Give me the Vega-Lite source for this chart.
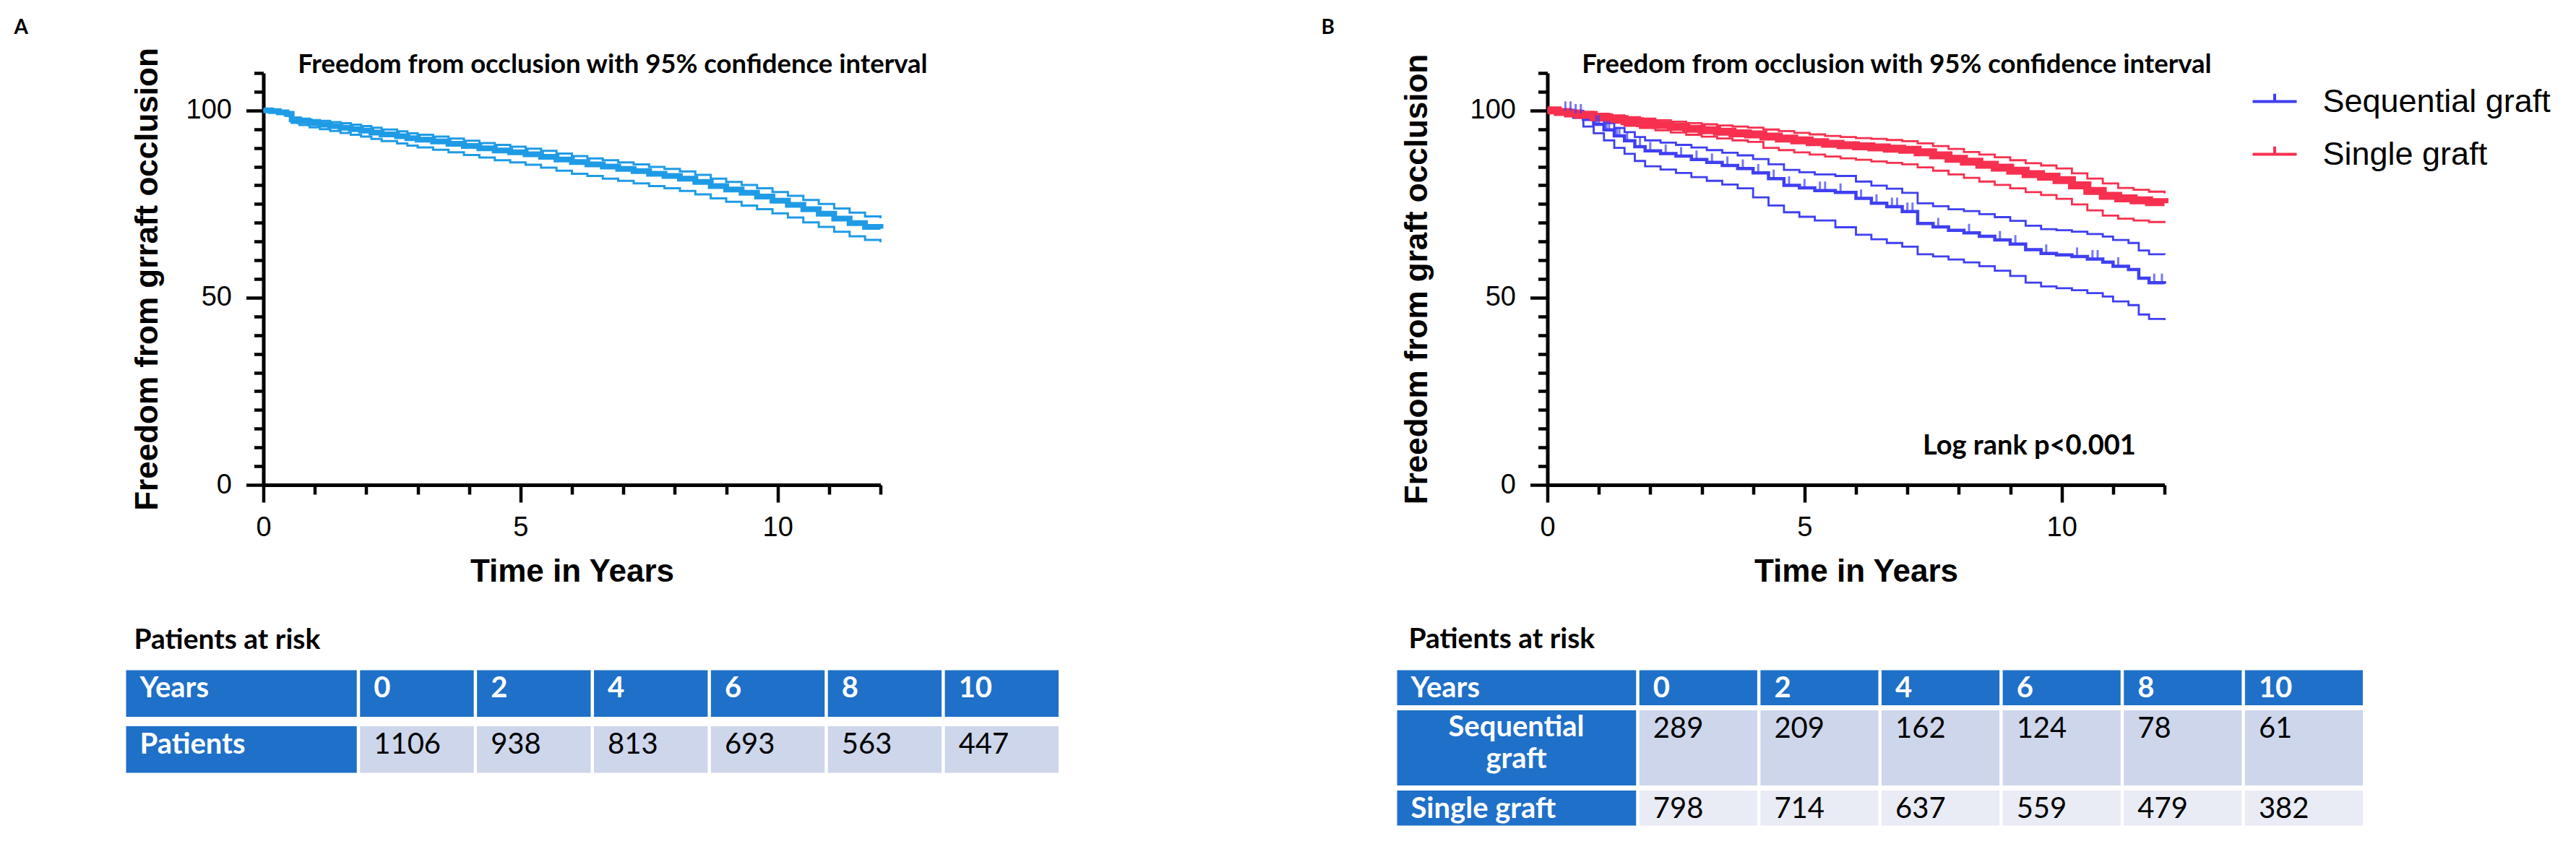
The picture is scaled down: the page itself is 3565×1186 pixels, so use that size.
{
  "$schema": "https://vega.github.io/schema/vega-lite/v6.json",
  "background": "white",
  "padding": {"left": 19.5, "top": 24, "right": 10, "bottom": 10},
  "config": {"view": {"stroke": null}, "font": "Liberation Sans"},
  "datasets": {
    "kmA": [
      {"t":0,"v":100,"part":"main"},{"t":0.15,"v":99.8,"part":"main"},{"t":0.3,"v":99.5,"part":"main"},{"t":0.45,"v":99.1,"part":"main"},{"t":0.55,"v":97.6,"part":"main"},{"t":0.7,"v":97.1,"part":"main"},{"t":0.9,"v":96.6,"part":"main"},{"t":1.1,"v":96.2,"part":"main"},{"t":1.3,"v":95.8,"part":"main"},{"t":1.5,"v":95.4,"part":"main"},
      {"t":1.7,"v":95.0,"part":"main"},{"t":1.9,"v":94.6,"part":"main"},{"t":2.1,"v":94.1,"part":"main"},{"t":2.3,"v":93.6,"part":"main"},{"t":2.6,"v":93.1,"part":"main"},{"t":2.8,"v":92.6,"part":"main"},{"t":3.0,"v":92.2,"part":"main"},{"t":3.3,"v":91.7,"part":"main"},{"t":3.6,"v":91.1,"part":"main"},{"t":3.9,"v":90.5,"part":"main"},
      {"t":4.2,"v":89.9,"part":"main"},{"t":4.5,"v":89.3,"part":"main"},{"t":4.8,"v":88.8,"part":"main"},{"t":5.1,"v":88.3,"part":"main"},{"t":5.4,"v":87.6,"part":"main"},{"t":5.7,"v":86.9,"part":"main"},{"t":6.0,"v":86.2,"part":"main"},{"t":6.3,"v":85.6,"part":"main"},{"t":6.6,"v":85.0,"part":"main"},{"t":6.9,"v":84.4,"part":"main"},
      {"t":7.2,"v":83.8,"part":"main"},{"t":7.5,"v":83.1,"part":"main"},{"t":7.8,"v":82.5,"part":"main"},{"t":8.1,"v":81.8,"part":"main"},{"t":8.4,"v":80.9,"part":"main"},{"t":8.7,"v":79.8,"part":"main"},{"t":9.0,"v":78.9,"part":"main"},{"t":9.3,"v":78.0,"part":"main"},{"t":9.6,"v":77.0,"part":"main"},{"t":9.9,"v":75.9,"part":"main"},
      {"t":10.2,"v":74.8,"part":"main"},{"t":10.5,"v":73.6,"part":"main"},{"t":10.8,"v":72.4,"part":"main"},{"t":11.1,"v":71.1,"part":"main"},{"t":11.4,"v":69.9,"part":"main"},{"t":11.7,"v":68.9,"part":"main"},{"t":12.0,"v":68.4,"part":"main"},
      {"t":0,"v":100,"part":"lower"},{"t":0.15,"v":99.6,"part":"lower"},{"t":0.3,"v":99.1,"part":"lower"},{"t":0.45,"v":98.5,"part":"lower"},{"t":0.55,"v":96.7,"part":"lower"},{"t":0.7,"v":96.1,"part":"lower"},{"t":0.9,"v":95.5,"part":"lower"},{"t":1.1,"v":95.0,"part":"lower"},{"t":1.3,"v":94.5,"part":"lower"},{"t":1.5,"v":94.0,"part":"lower"},
      {"t":1.7,"v":93.5,"part":"lower"},{"t":1.9,"v":93.0,"part":"lower"},{"t":2.1,"v":92.4,"part":"lower"},{"t":2.3,"v":91.8,"part":"lower"},{"t":2.6,"v":91.2,"part":"lower"},{"t":2.8,"v":90.6,"part":"lower"},{"t":3.0,"v":90.1,"part":"lower"},{"t":3.3,"v":89.5,"part":"lower"},{"t":3.6,"v":88.8,"part":"lower"},{"t":3.9,"v":88.1,"part":"lower"},
      {"t":4.2,"v":87.4,"part":"lower"},{"t":4.5,"v":86.7,"part":"lower"},{"t":4.8,"v":86.1,"part":"lower"},{"t":5.1,"v":85.5,"part":"lower"},{"t":5.4,"v":84.7,"part":"lower"},{"t":5.7,"v":83.9,"part":"lower"},{"t":6.0,"v":83.1,"part":"lower"},{"t":6.3,"v":82.5,"part":"lower"},{"t":6.6,"v":81.8,"part":"lower"},{"t":6.9,"v":81.2,"part":"lower"},
      {"t":7.2,"v":80.5,"part":"lower"},{"t":7.5,"v":79.8,"part":"lower"},{"t":7.8,"v":79.2,"part":"lower"},{"t":8.1,"v":78.5,"part":"lower"},{"t":8.4,"v":77.6,"part":"lower"},{"t":8.7,"v":76.5,"part":"lower"},{"t":9.0,"v":75.6,"part":"lower"},{"t":9.3,"v":74.6,"part":"lower"},{"t":9.6,"v":73.6,"part":"lower"},{"t":9.9,"v":72.5,"part":"lower"},
      {"t":10.2,"v":71.4,"part":"lower"},{"t":10.5,"v":70.1,"part":"lower"},{"t":10.8,"v":68.9,"part":"lower"},{"t":11.1,"v":67.6,"part":"lower"},{"t":11.4,"v":66.4,"part":"lower"},{"t":11.7,"v":65.4,"part":"lower"},{"t":12.0,"v":64.8,"part":"lower"},
      {"t":0,"v":100,"part":"upper"},{"t":0.15,"v":100,"part":"upper"},{"t":0.3,"v":99.8,"part":"upper"},{"t":0.45,"v":99.5,"part":"upper"},{"t":0.55,"v":98.1,"part":"upper"},{"t":0.7,"v":97.8,"part":"upper"},{"t":0.9,"v":97.4,"part":"upper"},{"t":1.1,"v":97.2,"part":"upper"},{"t":1.3,"v":96.9,"part":"upper"},{"t":1.5,"v":96.6,"part":"upper"},
      {"t":1.7,"v":96.2,"part":"upper"},{"t":1.9,"v":95.8,"part":"upper"},{"t":2.1,"v":95.4,"part":"upper"},{"t":2.3,"v":94.9,"part":"upper"},{"t":2.6,"v":94.4,"part":"upper"},{"t":2.8,"v":93.9,"part":"upper"},{"t":3.0,"v":93.5,"part":"upper"},{"t":3.3,"v":93.0,"part":"upper"},{"t":3.6,"v":92.5,"part":"upper"},{"t":3.9,"v":91.9,"part":"upper"},
      {"t":4.2,"v":91.3,"part":"upper"},{"t":4.5,"v":90.8,"part":"upper"},{"t":4.8,"v":90.3,"part":"upper"},{"t":5.1,"v":89.8,"part":"upper"},{"t":5.4,"v":89.2,"part":"upper"},{"t":5.7,"v":88.5,"part":"upper"},{"t":6.0,"v":87.8,"part":"upper"},{"t":6.3,"v":87.2,"part":"upper"},{"t":6.6,"v":86.7,"part":"upper"},{"t":6.9,"v":86.1,"part":"upper"},
      {"t":7.2,"v":85.6,"part":"upper"},{"t":7.5,"v":84.9,"part":"upper"},{"t":7.8,"v":84.4,"part":"upper"},{"t":8.1,"v":83.7,"part":"upper"},{"t":8.4,"v":82.8,"part":"upper"},{"t":8.7,"v":81.8,"part":"upper"},{"t":9.0,"v":80.9,"part":"upper"},{"t":9.3,"v":80.1,"part":"upper"},{"t":9.6,"v":79.2,"part":"upper"},{"t":9.9,"v":78.2,"part":"upper"},
      {"t":10.2,"v":77.2,"part":"upper"},{"t":10.5,"v":76.1,"part":"upper"},{"t":10.8,"v":75.0,"part":"upper"},{"t":11.1,"v":73.8,"part":"upper"},{"t":11.4,"v":72.7,"part":"upper"},{"t":11.7,"v":71.7,"part":"upper"},{"t":12.0,"v":71.2,"part":"upper"}
    ],
    "kmB": [
      {"t":0,"v":100,"group":"Single graft","part":"main"},{"t":0.2,"v":99.6,"group":"Single graft","part":"main"},{"t":0.4,"v":99.2,"group":"Single graft","part":"main"},{"t":0.6,"v":98.8,"group":"Single graft","part":"main"},{"t":0.9,"v":98.2,"group":"Single graft","part":"main"},{"t":1.2,"v":97.7,"group":"Single graft","part":"main"},{"t":1.5,"v":97.1,"group":"Single graft","part":"main"},{"t":1.8,"v":96.6,"group":"Single graft","part":"main"},{"t":2.1,"v":96.1,"group":"Single graft","part":"main"},{"t":2.4,"v":95.6,"group":"Single graft","part":"main"},
      {"t":2.7,"v":95.1,"group":"Single graft","part":"main"},{"t":3.0,"v":94.7,"group":"Single graft","part":"main"},{"t":3.3,"v":94.3,"group":"Single graft","part":"main"},{"t":3.6,"v":93.9,"group":"Single graft","part":"main"},{"t":3.9,"v":93.6,"group":"Single graft","part":"main"},{"t":4.2,"v":93.0,"group":"Single graft","part":"main"},{"t":4.5,"v":92.5,"group":"Single graft","part":"main"},{"t":4.8,"v":92.0,"group":"Single graft","part":"main"},{"t":5.1,"v":91.5,"group":"Single graft","part":"main"},{"t":5.4,"v":91.1,"group":"Single graft","part":"main"},
      {"t":5.7,"v":90.7,"group":"Single graft","part":"main"},{"t":6.0,"v":90.4,"group":"Single graft","part":"main"},{"t":6.3,"v":90.1,"group":"Single graft","part":"main"},{"t":6.6,"v":89.8,"group":"Single graft","part":"main"},{"t":6.9,"v":89.5,"group":"Single graft","part":"main"},{"t":7.2,"v":88.8,"group":"Single graft","part":"main"},{"t":7.5,"v":88.0,"group":"Single graft","part":"main"},{"t":7.8,"v":87.1,"group":"Single graft","part":"main"},{"t":8.1,"v":86.3,"group":"Single graft","part":"main"},{"t":8.4,"v":85.5,"group":"Single graft","part":"main"},
      {"t":8.7,"v":84.7,"group":"Single graft","part":"main"},{"t":9.0,"v":83.9,"group":"Single graft","part":"main"},{"t":9.3,"v":83.0,"group":"Single graft","part":"main"},{"t":9.6,"v":82.3,"group":"Single graft","part":"main"},{"t":9.9,"v":81.4,"group":"Single graft","part":"main"},{"t":10.2,"v":80.0,"group":"Single graft","part":"main"},{"t":10.5,"v":78.5,"group":"Single graft","part":"main"},{"t":10.8,"v":77.2,"group":"Single graft","part":"main"},{"t":11.1,"v":76.5,"group":"Single graft","part":"main"},{"t":11.4,"v":76.0,"group":"Single graft","part":"main"},
      {"t":11.7,"v":75.5,"group":"Single graft","part":"main"},{"t":12.0,"v":75.2,"group":"Single graft","part":"main"},
      {"t":0,"v":100,"group":"Single graft","part":"lower"},{"t":0.2,"v":99.3,"group":"Single graft","part":"lower"},{"t":0.4,"v":98.7,"group":"Single graft","part":"lower"},{"t":0.6,"v":98.1,"group":"Single graft","part":"lower"},{"t":0.9,"v":97.3,"group":"Single graft","part":"lower"},{"t":1.2,"v":96.7,"group":"Single graft","part":"lower"},{"t":1.5,"v":95.9,"group":"Single graft","part":"lower"},{"t":1.8,"v":95.3,"group":"Single graft","part":"lower"},{"t":2.1,"v":94.7,"group":"Single graft","part":"lower"},{"t":2.4,"v":94.1,"group":"Single graft","part":"lower"},
      {"t":2.7,"v":93.5,"group":"Single graft","part":"lower"},{"t":3.0,"v":93.0,"group":"Single graft","part":"lower"},{"t":3.3,"v":92.5,"group":"Single graft","part":"lower"},{"t":3.6,"v":92.0,"group":"Single graft","part":"lower"},{"t":3.9,"v":91.6,"group":"Single graft","part":"lower"},{"t":4.2,"v":90.0,"group":"Single graft","part":"lower"},{"t":4.5,"v":89.4,"group":"Single graft","part":"lower"},{"t":4.8,"v":88.8,"group":"Single graft","part":"lower"},{"t":5.1,"v":88.2,"group":"Single graft","part":"lower"},{"t":5.4,"v":87.7,"group":"Single graft","part":"lower"},
      {"t":5.7,"v":87.2,"group":"Single graft","part":"lower"},{"t":6.0,"v":86.8,"group":"Single graft","part":"lower"},{"t":6.3,"v":86.4,"group":"Single graft","part":"lower"},{"t":6.6,"v":86.0,"group":"Single graft","part":"lower"},{"t":6.9,"v":85.6,"group":"Single graft","part":"lower"},{"t":7.2,"v":84.8,"group":"Single graft","part":"lower"},{"t":7.5,"v":83.9,"group":"Single graft","part":"lower"},{"t":7.8,"v":82.9,"group":"Single graft","part":"lower"},{"t":8.1,"v":82.0,"group":"Single graft","part":"lower"},{"t":8.4,"v":81.0,"group":"Single graft","part":"lower"},
      {"t":8.7,"v":80.1,"group":"Single graft","part":"lower"},{"t":9.0,"v":79.2,"group":"Single graft","part":"lower"},{"t":9.3,"v":78.2,"group":"Single graft","part":"lower"},{"t":9.6,"v":77.4,"group":"Single graft","part":"lower"},{"t":9.9,"v":76.4,"group":"Single graft","part":"lower"},{"t":10.2,"v":74.9,"group":"Single graft","part":"lower"},{"t":10.5,"v":73.3,"group":"Single graft","part":"lower"},{"t":10.8,"v":71.9,"group":"Single graft","part":"lower"},{"t":11.1,"v":71.1,"group":"Single graft","part":"lower"},{"t":11.4,"v":70.6,"group":"Single graft","part":"lower"},
      {"t":11.7,"v":70.2,"group":"Single graft","part":"lower"},{"t":12.0,"v":69.9,"group":"Single graft","part":"lower"},
      {"t":0,"v":100,"group":"Single graft","part":"upper"},{"t":0.2,"v":100,"group":"Single graft","part":"upper"},{"t":0.4,"v":99.8,"group":"Single graft","part":"upper"},{"t":0.6,"v":99.6,"group":"Single graft","part":"upper"},{"t":0.9,"v":99.1,"group":"Single graft","part":"upper"},{"t":1.2,"v":98.7,"group":"Single graft","part":"upper"},{"t":1.5,"v":98.2,"group":"Single graft","part":"upper"},{"t":1.8,"v":97.8,"group":"Single graft","part":"upper"},{"t":2.1,"v":97.4,"group":"Single graft","part":"upper"},{"t":2.4,"v":97.0,"group":"Single graft","part":"upper"},
      {"t":2.7,"v":96.6,"group":"Single graft","part":"upper"},{"t":3.0,"v":96.3,"group":"Single graft","part":"upper"},{"t":3.3,"v":96.0,"group":"Single graft","part":"upper"},{"t":3.6,"v":95.7,"group":"Single graft","part":"upper"},{"t":3.9,"v":95.4,"group":"Single graft","part":"upper"},{"t":4.2,"v":94.9,"group":"Single graft","part":"upper"},{"t":4.5,"v":94.5,"group":"Single graft","part":"upper"},{"t":4.8,"v":94.0,"group":"Single graft","part":"upper"},{"t":5.1,"v":93.6,"group":"Single graft","part":"upper"},{"t":5.4,"v":93.2,"group":"Single graft","part":"upper"},
      {"t":5.7,"v":92.9,"group":"Single graft","part":"upper"},{"t":6.0,"v":92.6,"group":"Single graft","part":"upper"},{"t":6.3,"v":92.4,"group":"Single graft","part":"upper"},{"t":6.6,"v":92.1,"group":"Single graft","part":"upper"},{"t":6.9,"v":91.8,"group":"Single graft","part":"upper"},{"t":7.2,"v":91.2,"group":"Single graft","part":"upper"},{"t":7.5,"v":90.5,"group":"Single graft","part":"upper"},{"t":7.8,"v":89.7,"group":"Single graft","part":"upper"},{"t":8.1,"v":88.9,"group":"Single graft","part":"upper"},{"t":8.4,"v":88.2,"group":"Single graft","part":"upper"},
      {"t":8.7,"v":87.5,"group":"Single graft","part":"upper"},{"t":9.0,"v":86.7,"group":"Single graft","part":"upper"},{"t":9.3,"v":85.9,"group":"Single graft","part":"upper"},{"t":9.6,"v":85.3,"group":"Single graft","part":"upper"},{"t":9.9,"v":84.5,"group":"Single graft","part":"upper"},{"t":10.2,"v":83.2,"group":"Single graft","part":"upper"},{"t":10.5,"v":81.8,"group":"Single graft","part":"upper"},{"t":10.8,"v":80.5,"group":"Single graft","part":"upper"},{"t":11.1,"v":79.3,"group":"Single graft","part":"upper"},{"t":11.4,"v":78.8,"group":"Single graft","part":"upper"},
      {"t":11.7,"v":78.3,"group":"Single graft","part":"upper"},{"t":12.0,"v":77.8,"group":"Single graft","part":"upper"},
      {"t":0,"v":100,"group":"Sequential graft","part":"main"},{"t":0.3,"v":100,"group":"Sequential graft","part":"main"},{"t":0.5,"v":99.3,"group":"Sequential graft","part":"main"},{"t":0.7,"v":97.6,"group":"Sequential graft","part":"main"},{"t":0.9,"v":96.3,"group":"Sequential graft","part":"main"},{"t":1.1,"v":94.8,"group":"Sequential graft","part":"main"},{"t":1.3,"v":93.2,"group":"Sequential graft","part":"main"},{"t":1.5,"v":91.9,"group":"Sequential graft","part":"main"},{"t":1.7,"v":90.3,"group":"Sequential graft","part":"main"},{"t":1.9,"v":89.2,"group":"Sequential graft","part":"main"},
      {"t":2.2,"v":88.5,"group":"Sequential graft","part":"main"},{"t":2.5,"v":87.8,"group":"Sequential graft","part":"main"},{"t":2.8,"v":86.9,"group":"Sequential graft","part":"main"},{"t":3.1,"v":86.1,"group":"Sequential graft","part":"main"},{"t":3.4,"v":85.3,"group":"Sequential graft","part":"main"},{"t":3.7,"v":84.5,"group":"Sequential graft","part":"main"},{"t":4.0,"v":83.3,"group":"Sequential graft","part":"main"},{"t":4.3,"v":81.8,"group":"Sequential graft","part":"main"},{"t":4.6,"v":80.0,"group":"Sequential graft","part":"main"},{"t":4.9,"v":79.3,"group":"Sequential graft","part":"main"},
      {"t":5.2,"v":78.6,"group":"Sequential graft","part":"main"},{"t":5.6,"v":78.1,"group":"Sequential graft","part":"main"},{"t":6.0,"v":76.5,"group":"Sequential graft","part":"main"},{"t":6.3,"v":75.2,"group":"Sequential graft","part":"main"},{"t":6.6,"v":74.3,"group":"Sequential graft","part":"main"},{"t":6.9,"v":73.0,"group":"Sequential graft","part":"main"},{"t":7.2,"v":69.8,"group":"Sequential graft","part":"main"},{"t":7.5,"v":68.9,"group":"Sequential graft","part":"main"},{"t":7.8,"v":68.0,"group":"Sequential graft","part":"main"},{"t":8.1,"v":67.3,"group":"Sequential graft","part":"main"},
      {"t":8.4,"v":66.4,"group":"Sequential graft","part":"main"},{"t":8.7,"v":65.4,"group":"Sequential graft","part":"main"},{"t":9.0,"v":64.3,"group":"Sequential graft","part":"main"},{"t":9.3,"v":62.8,"group":"Sequential graft","part":"main"},{"t":9.6,"v":61.8,"group":"Sequential graft","part":"main"},{"t":9.9,"v":61.4,"group":"Sequential graft","part":"main"},{"t":10.2,"v":61.0,"group":"Sequential graft","part":"main"},{"t":10.5,"v":60.3,"group":"Sequential graft","part":"main"},{"t":10.8,"v":59.5,"group":"Sequential graft","part":"main"},{"t":11.0,"v":58.4,"group":"Sequential graft","part":"main"},
      {"t":11.3,"v":57.5,"group":"Sequential graft","part":"main"},{"t":11.5,"v":55.2,"group":"Sequential graft","part":"main"},{"t":11.7,"v":54.0,"group":"Sequential graft","part":"main"},{"t":12.0,"v":53.7,"group":"Sequential graft","part":"main"},
      {"t":0,"v":100,"group":"Sequential graft","part":"upper"},{"t":0.3,"v":100,"group":"Sequential graft","part":"upper"},{"t":0.5,"v":99.9,"group":"Sequential graft","part":"upper"},{"t":0.7,"v":98.9,"group":"Sequential graft","part":"upper"},{"t":0.9,"v":97.9,"group":"Sequential graft","part":"upper"},{"t":1.1,"v":96.6,"group":"Sequential graft","part":"upper"},{"t":1.3,"v":95.3,"group":"Sequential graft","part":"upper"},{"t":1.5,"v":94.2,"group":"Sequential graft","part":"upper"},{"t":1.7,"v":92.9,"group":"Sequential graft","part":"upper"},{"t":1.9,"v":92.0,"group":"Sequential graft","part":"upper"},
      {"t":2.2,"v":91.4,"group":"Sequential graft","part":"upper"},{"t":2.5,"v":90.8,"group":"Sequential graft","part":"upper"},{"t":2.8,"v":90.1,"group":"Sequential graft","part":"upper"},{"t":3.1,"v":89.4,"group":"Sequential graft","part":"upper"},{"t":3.4,"v":88.7,"group":"Sequential graft","part":"upper"},{"t":3.7,"v":88.0,"group":"Sequential graft","part":"upper"},{"t":4.0,"v":87.0,"group":"Sequential graft","part":"upper"},{"t":4.3,"v":85.6,"group":"Sequential graft","part":"upper"},{"t":4.6,"v":84.1,"group":"Sequential graft","part":"upper"},{"t":4.9,"v":83.5,"group":"Sequential graft","part":"upper"},
      {"t":5.2,"v":82.9,"group":"Sequential graft","part":"upper"},{"t":5.6,"v":82.5,"group":"Sequential graft","part":"upper"},{"t":6.0,"v":81.0,"group":"Sequential graft","part":"upper"},{"t":6.3,"v":79.9,"group":"Sequential graft","part":"upper"},{"t":6.6,"v":79.1,"group":"Sequential graft","part":"upper"},{"t":6.9,"v":78.0,"group":"Sequential graft","part":"upper"},{"t":7.2,"v":75.2,"group":"Sequential graft","part":"upper"},{"t":7.5,"v":74.4,"group":"Sequential graft","part":"upper"},{"t":7.8,"v":73.6,"group":"Sequential graft","part":"upper"},{"t":8.1,"v":73.1,"group":"Sequential graft","part":"upper"},
      {"t":8.4,"v":72.3,"group":"Sequential graft","part":"upper"},{"t":8.7,"v":71.5,"group":"Sequential graft","part":"upper"},{"t":9.0,"v":70.5,"group":"Sequential graft","part":"upper"},{"t":9.3,"v":69.2,"group":"Sequential graft","part":"upper"},{"t":9.6,"v":68.3,"group":"Sequential graft","part":"upper"},{"t":9.9,"v":68.0,"group":"Sequential graft","part":"upper"},{"t":10.2,"v":67.6,"group":"Sequential graft","part":"upper"},{"t":10.5,"v":67.0,"group":"Sequential graft","part":"upper"},{"t":10.8,"v":66.3,"group":"Sequential graft","part":"upper"},{"t":11.0,"v":65.4,"group":"Sequential graft","part":"upper"},
      {"t":11.3,"v":64.6,"group":"Sequential graft","part":"upper"},{"t":11.5,"v":62.6,"group":"Sequential graft","part":"upper"},{"t":11.7,"v":61.6,"group":"Sequential graft","part":"upper"},{"t":12.0,"v":61.4,"group":"Sequential graft","part":"upper"},
      {"t":0,"v":100,"group":"Sequential graft","part":"lower"},{"t":0.3,"v":99.6,"group":"Sequential graft","part":"lower"},{"t":0.5,"v":98.0,"group":"Sequential graft","part":"lower"},{"t":0.7,"v":95.7,"group":"Sequential graft","part":"lower"},{"t":0.9,"v":93.9,"group":"Sequential graft","part":"lower"},{"t":1.1,"v":92.0,"group":"Sequential graft","part":"lower"},{"t":1.3,"v":90.0,"group":"Sequential graft","part":"lower"},{"t":1.5,"v":88.4,"group":"Sequential graft","part":"lower"},{"t":1.7,"v":86.5,"group":"Sequential graft","part":"lower"},{"t":1.9,"v":85.1,"group":"Sequential graft","part":"lower"},
      {"t":2.2,"v":84.2,"group":"Sequential graft","part":"lower"},{"t":2.5,"v":83.3,"group":"Sequential graft","part":"lower"},{"t":2.8,"v":82.2,"group":"Sequential graft","part":"lower"},{"t":3.1,"v":81.2,"group":"Sequential graft","part":"lower"},{"t":3.4,"v":80.2,"group":"Sequential graft","part":"lower"},{"t":3.7,"v":79.2,"group":"Sequential graft","part":"lower"},{"t":4.0,"v":76.8,"group":"Sequential graft","part":"lower"},{"t":4.3,"v":74.6,"group":"Sequential graft","part":"lower"},{"t":4.6,"v":72.8,"group":"Sequential graft","part":"lower"},{"t":4.9,"v":71.6,"group":"Sequential graft","part":"lower"},
      {"t":5.2,"v":70.6,"group":"Sequential graft","part":"lower"},{"t":5.6,"v":68.8,"group":"Sequential graft","part":"lower"},{"t":6.0,"v":66.8,"group":"Sequential graft","part":"lower"},{"t":6.3,"v":65.6,"group":"Sequential graft","part":"lower"},{"t":6.6,"v":64.6,"group":"Sequential graft","part":"lower"},{"t":6.9,"v":63.6,"group":"Sequential graft","part":"lower"},{"t":7.2,"v":61.6,"group":"Sequential graft","part":"lower"},{"t":7.5,"v":61.0,"group":"Sequential graft","part":"lower"},{"t":7.8,"v":60.2,"group":"Sequential graft","part":"lower"},{"t":8.1,"v":59.4,"group":"Sequential graft","part":"lower"},
      {"t":8.4,"v":58.4,"group":"Sequential graft","part":"lower"},{"t":8.7,"v":57.2,"group":"Sequential graft","part":"lower"},{"t":9.0,"v":55.8,"group":"Sequential graft","part":"lower"},{"t":9.3,"v":54.0,"group":"Sequential graft","part":"lower"},{"t":9.6,"v":53.0,"group":"Sequential graft","part":"lower"},{"t":9.9,"v":52.5,"group":"Sequential graft","part":"lower"},{"t":10.2,"v":52.0,"group":"Sequential graft","part":"lower"},{"t":10.5,"v":51.2,"group":"Sequential graft","part":"lower"},{"t":10.8,"v":50.3,"group":"Sequential graft","part":"lower"},{"t":11.0,"v":49.0,"group":"Sequential graft","part":"lower"},
      {"t":11.3,"v":48.0,"group":"Sequential graft","part":"lower"},{"t":11.5,"v":45.5,"group":"Sequential graft","part":"lower"},{"t":11.7,"v":44.3,"group":"Sequential graft","part":"lower"},{"t":12.0,"v":44.0,"group":"Sequential graft","part":"lower"}
    ],
    "censorB": [
      {"t":0.35,"v":100,"group":"Sequential graft"},{"t":0.45,"v":100,"group":"Sequential graft"},{"t":0.55,"v":99.3,"group":"Sequential graft"},{"t":0.65,"v":99.3,"group":"Sequential graft"},{"t":0.95,"v":96.3,"group":"Sequential graft"},{"t":1.0,"v":96.3,"group":"Sequential graft"},{"t":1.15,"v":94.8,"group":"Sequential graft"},{"t":1.2,"v":94.8,"group":"Sequential graft"},{"t":1.35,"v":93.2,"group":"Sequential graft"},{"t":1.4,"v":93.2,"group":"Sequential graft"},
      {"t":1.55,"v":91.9,"group":"Sequential graft"},{"t":1.8,"v":90.3,"group":"Sequential graft"},{"t":2.0,"v":89.2,"group":"Sequential graft"},{"t":2.3,"v":88.5,"group":"Sequential graft"},{"t":2.6,"v":87.8,"group":"Sequential graft"},{"t":2.9,"v":86.9,"group":"Sequential graft"},{"t":3.2,"v":86.1,"group":"Sequential graft"},{"t":3.5,"v":85.3,"group":"Sequential graft"},{"t":3.8,"v":84.5,"group":"Sequential graft"},{"t":4.1,"v":83.3,"group":"Sequential graft"},
      {"t":4.4,"v":81.8,"group":"Sequential graft"},{"t":4.7,"v":80.0,"group":"Sequential graft"},{"t":5.0,"v":79.3,"group":"Sequential graft"},{"t":5.3,"v":78.6,"group":"Sequential graft"},{"t":5.4,"v":78.6,"group":"Sequential graft"},{"t":5.7,"v":78.1,"group":"Sequential graft"},{"t":6.1,"v":76.5,"group":"Sequential graft"},{"t":6.4,"v":75.2,"group":"Sequential graft"},{"t":6.7,"v":74.3,"group":"Sequential graft"},{"t":6.8,"v":74.3,"group":"Sequential graft"},
      {"t":7.0,"v":73.0,"group":"Sequential graft"},{"t":7.1,"v":73.0,"group":"Sequential graft"},{"t":7.6,"v":68.9,"group":"Sequential graft"},{"t":8.2,"v":67.3,"group":"Sequential graft"},{"t":8.8,"v":65.4,"group":"Sequential graft"},{"t":9.1,"v":64.3,"group":"Sequential graft"},{"t":9.7,"v":61.8,"group":"Sequential graft"},{"t":10.3,"v":61.0,"group":"Sequential graft"},{"t":10.6,"v":60.3,"group":"Sequential graft"},{"t":10.7,"v":60.3,"group":"Sequential graft"},
      {"t":11.1,"v":58.4,"group":"Sequential graft"},{"t":11.8,"v":54.0,"group":"Sequential graft"},{"t":11.95,"v":54.0,"group":"Sequential graft"}
    ],
    "annotA": [
      {"t":-4.71,"v":122,"text":"A","role":"panel"},
      {"t":0.67,"v":112.2,"text":"Freedom from occlusion with 95% confidence interval","role":"title"}
    ],
    "annotB": [
      {"t":-4.27,"v":122,"text":"B","role":"panel"},
      {"t":0.67,"v":112.2,"text":"Freedom from occlusion with 95% confidence interval","role":"title"},
      {"t":7.3,"v":10.3,"text":"Log rank p<0.001","role":"note"}
    ],
    "tableA": [
      {"r0":0,"r1":1,"c0":0,"c1":2,"text":"Years","kind":"head"},
      {"r0":0,"r1":1,"c0":2,"c1":3,"text":"0","kind":"head"},
      {"r0":0,"r1":1,"c0":3,"c1":4,"text":"2","kind":"head"},
      {"r0":0,"r1":1,"c0":4,"c1":5,"text":"4","kind":"head"},
      {"r0":0,"r1":1,"c0":5,"c1":6,"text":"6","kind":"head"},
      {"r0":0,"r1":1,"c0":6,"c1":7,"text":"8","kind":"head"},
      {"r0":0,"r1":1,"c0":7,"c1":8,"text":"10","kind":"head"},
      {"r0":1,"r1":2,"c0":0,"c1":2,"text":"Patients","kind":"head"},
      {"r0":1,"r1":2,"c0":2,"c1":3,"text":"1106","kind":"data1"},
      {"r0":1,"r1":2,"c0":3,"c1":4,"text":"938","kind":"data1"},
      {"r0":1,"r1":2,"c0":4,"c1":5,"text":"813","kind":"data1"},
      {"r0":1,"r1":2,"c0":5,"c1":6,"text":"693","kind":"data1"},
      {"r0":1,"r1":2,"c0":6,"c1":7,"text":"563","kind":"data1"},
      {"r0":1,"r1":2,"c0":7,"c1":8,"text":"447","kind":"data1"}
    ],
    "tableB": [
      {"r0":0,"r1":1,"c0":0,"c1":2,"text":"Years","kind":"head"},
      {"r0":0,"r1":1,"c0":2,"c1":3,"text":"0","kind":"head"},
      {"r0":0,"r1":1,"c0":3,"c1":4,"text":"2","kind":"head"},
      {"r0":0,"r1":1,"c0":4,"c1":5,"text":"4","kind":"head"},
      {"r0":0,"r1":1,"c0":5,"c1":6,"text":"6","kind":"head"},
      {"r0":0,"r1":1,"c0":6,"c1":7,"text":"8","kind":"head"},
      {"r0":0,"r1":1,"c0":7,"c1":8,"text":"10","kind":"head"},
      {"r0":1,"r1":3,"c0":0,"c1":2,"text":"Sequential graft","kind":"head"},
      {"r0":1,"r1":3,"c0":2,"c1":3,"text":"289","kind":"data1"},
      {"r0":1,"r1":3,"c0":3,"c1":4,"text":"209","kind":"data1"},
      {"r0":1,"r1":3,"c0":4,"c1":5,"text":"162","kind":"data1"},
      {"r0":1,"r1":3,"c0":5,"c1":6,"text":"124","kind":"data1"},
      {"r0":1,"r1":3,"c0":6,"c1":7,"text":"78","kind":"data1"},
      {"r0":1,"r1":3,"c0":7,"c1":8,"text":"61","kind":"data1"},
      {"r0":3,"r1":4,"c0":0,"c1":2,"text":"Single graft","kind":"head"},
      {"r0":3,"r1":4,"c0":2,"c1":3,"text":"798","kind":"data2"},
      {"r0":3,"r1":4,"c0":3,"c1":4,"text":"714","kind":"data2"},
      {"r0":3,"r1":4,"c0":4,"c1":5,"text":"637","kind":"data2"},
      {"r0":3,"r1":4,"c0":5,"c1":6,"text":"559","kind":"data2"},
      {"r0":3,"r1":4,"c0":6,"c1":7,"text":"479","kind":"data2"},
      {"r0":3,"r1":4,"c0":7,"c1":8,"text":"382","kind":"data2"}
    ],
    "riskA": [{"c0":0.068,"r0":-0.458,"text":"Patients at risk"}],
    "riskB": [{"c0":0.095,"r0":-0.694,"text":"Patients at risk"}]
  },
  "spacing": 358,
  "hconcat": [
    {
      "spacing": 53,
      "vconcat": [
        {
          "width": 854,
          "height": 570,
          "encoding": {
            "x": {"field": "t", "type": "quantitative", "scale": {"domain": [0, 12], "nice": false},
              "axis": {"values": [0,1,2,3,4,5,6,7,8,9,10,11,12], "labelExpr": "datum.value % 5 === 0 ? datum.label : ''",
                "tickSize": {"condition": {"test": "datum.value % 5 === 0", "value": 24}, "value": 13},
                "tickWidth": 4.5, "tickColor": "black", "domainColor": "black", "domainWidth": 5,
                "labelFont": "Liberation Sans", "labelFontSize": 38, "labelColor": "black", "labelPadding": 16, "labelOverlap": false, "labelFlush": false, "grid": false,
                "title": "Time in Years", "titleFont": "Liberation Sans", "titleFontSize": 44, "titleFontWeight": "bold", "titleColor": "black", "titleBaseline": "middle", "titleY": 120}},
            "y": {"field": "v", "type": "quantitative", "scale": {"domain": [0, 110], "nice": false},
              "axis": {"values": [0,5,10,15,20,25,30,35,40,45,50,55,60,65,70,75,80,85,90,95,100,105,110], "labelExpr": "datum.value % 50 === 0 ? datum.label : ''",
                "tickSize": {"condition": {"test": "datum.value % 50 === 0", "value": 24}, "value": 13},
                "tickWidth": 4.5, "tickColor": "black", "domainColor": "black", "domainWidth": 5,
                "labelFont": "Liberation Sans", "labelFontSize": 38, "labelColor": "black", "labelPadding": 20, "labelOverlap": false, "labelFlush": false, "grid": false,
                "title": "Freedom from grraft occlusion", "titleFont": "Liberation Sans", "titleFontSize": 44, "titleFontWeight": "bold", "titleColor": "black", "titleBaseline": "middle", "titleX": -160}}
          },
          "layer": [
            {"data": {"name": "kmA"}, "transform": [{"filter": "datum.part !== 'main'"}], "mark": {"type": "line", "interpolate": "step-after", "color": "#1f9be6", "strokeWidth": 3}, "encoding": {"detail": {"field": "part", "type": "nominal"}}},
            {"data": {"name": "kmA"}, "transform": [{"filter": "datum.part === 'main'"}], "mark": {"type": "line", "interpolate": "step-after", "color": "#1f9be6", "strokeWidth": 8}, "encoding": {}},
            {"data": {"name": "annotA"}, "transform": [{"filter": "datum.role === 'panel'"}], "mark": {"type": "text", "align": "center", "baseline": "middle", "font": "Lato", "fontSize": 28, "fontWeight": "bold", "color": "black"}, "encoding": {"text": {"field": "text", "type": "nominal"}}},
            {"data": {"name": "annotA"}, "transform": [{"filter": "datum.role === 'title'"}], "mark": {"type": "text", "align": "left", "baseline": "middle", "font": "Lato", "fontSize": 36.5, "fontWeight": "bold", "color": "black"}, "encoding": {"text": {"field": "text", "type": "nominal"}}}
          ]
        },
        {
          "width": 1105,
          "height": 155,
          "encoding": {
            "x": {"field": "c0", "type": "quantitative", "scale": {"domain": [0, 8], "range": [-190, 1105], "nice": false, "zero": false}, "axis": null},
            "y": {"field": "r0", "type": "quantitative", "scale": {"domain": [0, 2], "range": [0, 155], "nice": false, "zero": false}, "axis": null}
          },
          "layer": [
            {"data": {"name": "tableA"}, "mark": {"type": "rect", "x2Offset": -4.5, "yOffset": 6.5, "y2Offset": -6.5},
             "encoding": {"x2": {"field": "c1"}, "y2": {"field": "r1"},
               "fill": {"field": "kind", "type": "nominal", "scale": {"domain": ["head", "data1", "data2"], "range": ["#1f70c8", "#cdd6eb", "#e9ebf5"]}, "legend": null}}},
            {"data": {"name": "tableA"}, "transform": [{"filter": "datum.kind === 'head'"}],
             "mark": {"type": "text", "align": "left", "baseline": "top", "dx": 19, "dy": 12, "font": "Lato", "fontSize": 40, "fontWeight": "bold", "color": "white"},
             "encoding": {"text": {"field": "text", "type": "nominal"}}},
            {"data": {"name": "tableA"}, "transform": [{"filter": "datum.kind !== 'head'"}],
             "mark": {"type": "text", "align": "left", "baseline": "top", "dx": 19, "dy": 12, "font": "Lato", "fontSize": 40, "color": "black"},
             "encoding": {"text": {"field": "text", "type": "nominal"}}},
            {"data": {"name": "riskA"},
             "mark": {"type": "text", "align": "left", "baseline": "middle", "font": "Lato", "fontSize": 39, "fontWeight": "bold", "color": "black"},
             "encoding": {"text": {"field": "text", "type": "nominal"}}}
          ]
        }
      ]
    },
    {
      "spacing": 53,
      "vconcat": [
        {
          "width": 854,
          "height": 570,
          "encoding": {
            "x": {"field": "t", "type": "quantitative", "scale": {"domain": [0, 12], "nice": false},
              "axis": {"values": [0,1,2,3,4,5,6,7,8,9,10,11,12], "labelExpr": "datum.value % 5 === 0 ? datum.label : ''",
                "tickSize": {"condition": {"test": "datum.value % 5 === 0", "value": 24}, "value": 13},
                "tickWidth": 4.5, "tickColor": "black", "domainColor": "black", "domainWidth": 5,
                "labelFont": "Liberation Sans", "labelFontSize": 38, "labelColor": "black", "labelPadding": 16, "labelOverlap": false, "labelFlush": false, "grid": false,
                "title": "Time in Years", "titleFont": "Liberation Sans", "titleFontSize": 44, "titleFontWeight": "bold", "titleColor": "black", "titleBaseline": "middle", "titleY": 120}},
            "y": {"field": "v", "type": "quantitative", "scale": {"domain": [0, 110], "nice": false},
              "axis": {"values": [0,5,10,15,20,25,30,35,40,45,50,55,60,65,70,75,80,85,90,95,100,105,110], "labelExpr": "datum.value % 50 === 0 ? datum.label : ''",
                "tickSize": {"condition": {"test": "datum.value % 50 === 0", "value": 24}, "value": 13},
                "tickWidth": 4.5, "tickColor": "black", "domainColor": "black", "domainWidth": 5,
                "labelFont": "Liberation Sans", "labelFontSize": 38, "labelColor": "black", "labelPadding": 20, "labelOverlap": false, "labelFlush": false, "grid": false,
                "title": "Freedom from graft occlusion", "titleFont": "Liberation Sans", "titleFontSize": 44, "titleFontWeight": "bold", "titleColor": "black", "titleBaseline": "middle", "titleX": -180}}
          },
          "layer": [
            {"data": {"name": "kmB"}, "transform": [{"filter": "datum.part !== 'main'"}],
             "mark": {"type": "line", "interpolate": "step-after", "strokeWidth": 2.8},
             "encoding": {"detail": {"field": "part", "type": "nominal"},
               "color": {"field": "group", "type": "nominal", "scale": {"domain": ["Sequential graft", "Single graft"], "range": ["#3f3ff2", "#f7304f"]},
                 "legend": {"orient": "none", "direction": "vertical", "legendX": 2751, "legendY": 7, "title": null, "symbolType": "M-1,0L1,0M0,0L0,-0.35", "symbolSize": 3721, "symbolStrokeWidth": 4, "labelFont": "Liberation Sans", "labelFontSize": 45, "labelColor": "black", "labelOffset": 34, "rowPadding": 17, "padding": 0, "labelLimit": 0}}}},
            {"data": {"name": "kmB"}, "transform": [{"filter": "datum.part === 'main' && datum.group === 'Sequential graft'"}],
             "mark": {"type": "line", "interpolate": "step-after", "strokeWidth": 4.5},
             "encoding": {"color": {"field": "group", "type": "nominal", "scale": {"domain": ["Sequential graft", "Single graft"], "range": ["#3f3ff2", "#f7304f"]},
                 "legend": {"orient": "none", "direction": "vertical", "legendX": 2751, "legendY": 7, "title": null, "symbolType": "M-1,0L1,0M0,0L0,-0.35", "symbolSize": 3721, "symbolStrokeWidth": 4, "labelFont": "Liberation Sans", "labelFontSize": 45, "labelColor": "black", "labelOffset": 34, "rowPadding": 17, "padding": 0, "labelLimit": 0}}}},
            {"data": {"name": "kmB"}, "transform": [{"filter": "datum.part === 'main' && datum.group === 'Single graft'"}],
             "mark": {"type": "line", "interpolate": "step-after", "strokeWidth": 11},
             "encoding": {"color": {"field": "group", "type": "nominal", "scale": {"domain": ["Sequential graft", "Single graft"], "range": ["#3f3ff2", "#f7304f"]},
                 "legend": {"orient": "none", "direction": "vertical", "legendX": 2751, "legendY": 7, "title": null, "symbolType": "M-1,0L1,0M0,0L0,-0.35", "symbolSize": 3721, "symbolStrokeWidth": 4, "labelFont": "Liberation Sans", "labelFontSize": 45, "labelColor": "black", "labelOffset": 34, "rowPadding": 17, "padding": 0, "labelLimit": 0}}}},
            {"data": {"name": "censorB"},
             "mark": {"type": "tick", "orient": "vertical", "size": 13, "thickness": 3, "yOffset": -6, "color": "#3f3ff2"},
             "encoding": {}},
            {"data": {"name": "annotB"}, "transform": [{"filter": "datum.role === 'panel'"}], "mark": {"type": "text", "align": "center", "baseline": "middle", "font": "Lato", "fontSize": 28, "fontWeight": "bold", "color": "black"}, "encoding": {"text": {"field": "text", "type": "nominal"}}},
            {"data": {"name": "annotB"}, "transform": [{"filter": "datum.role === 'title'"}], "mark": {"type": "text", "align": "left", "baseline": "middle", "font": "Lato", "fontSize": 36.5, "fontWeight": "bold", "color": "black"}, "encoding": {"text": {"field": "text", "type": "nominal"}}},
            {"data": {"name": "annotB"}, "transform": [{"filter": "datum.role === 'note'"}], "mark": {"type": "text", "align": "left", "baseline": "middle", "font": "Lato", "fontSize": 38, "fontWeight": "bold", "color": "black"}, "encoding": {"text": {"field": "text", "type": "nominal"}}}
          ]
        },
        {
          "width": 1133,
          "height": 222,
          "encoding": {
            "x": {"field": "c0", "type": "quantitative", "scale": {"domain": [0, 8], "range": [-208, 1133], "nice": false, "zero": false}, "axis": null},
            "y": {"field": "r0", "type": "quantitative", "scale": {"domain": [0, 4], "range": [0, 222], "nice": false, "zero": false}, "axis": null}
          },
          "layer": [
            {"data": {"name": "tableB"}, "mark": {"type": "rect", "x2Offset": -4.5, "yOffset": 3.5, "y2Offset": -3.5},
             "encoding": {"x2": {"field": "c1"}, "y2": {"field": "r1"},
               "fill": {"field": "kind", "type": "nominal", "scale": {"domain": ["head", "data1", "data2"], "range": ["#1f70c8", "#cdd6eb", "#e9ebf5"]}, "legend": null}}},
            {"data": {"name": "tableB"}, "transform": [{"filter": "datum.kind === 'head' && datum.text !== 'Sequential graft'"}],
             "mark": {"type": "text", "align": "left", "baseline": "top", "dx": 19, "dy": 9, "font": "Lato", "fontSize": 40, "fontWeight": "bold", "color": "white"},
             "encoding": {"text": {"field": "text", "type": "nominal"}}},
            {"data": {"name": "tableB"}, "transform": [{"filter": "datum.text === 'Sequential graft'"}],
             "mark": {"type": "text", "align": "center", "baseline": "top", "dx": 165, "dy": 7, "lineBreak": " ", "lineHeight": 44, "font": "Lato", "fontSize": 40, "fontWeight": "bold", "color": "white"},
             "encoding": {"text": {"field": "text", "type": "nominal"}}},
            {"data": {"name": "tableB"}, "transform": [{"filter": "datum.kind !== 'head'"}],
             "mark": {"type": "text", "align": "left", "baseline": "top", "dx": 19, "dy": 9, "font": "Lato", "fontSize": 40, "color": "black"},
             "encoding": {"text": {"field": "text", "type": "nominal"}}},
            {"data": {"name": "riskB"},
             "mark": {"type": "text", "align": "left", "baseline": "middle", "font": "Lato", "fontSize": 39, "fontWeight": "bold", "color": "black"},
             "encoding": {"text": {"field": "text", "type": "nominal"}}}
          ]
        }
      ]
    }
  ]
}
